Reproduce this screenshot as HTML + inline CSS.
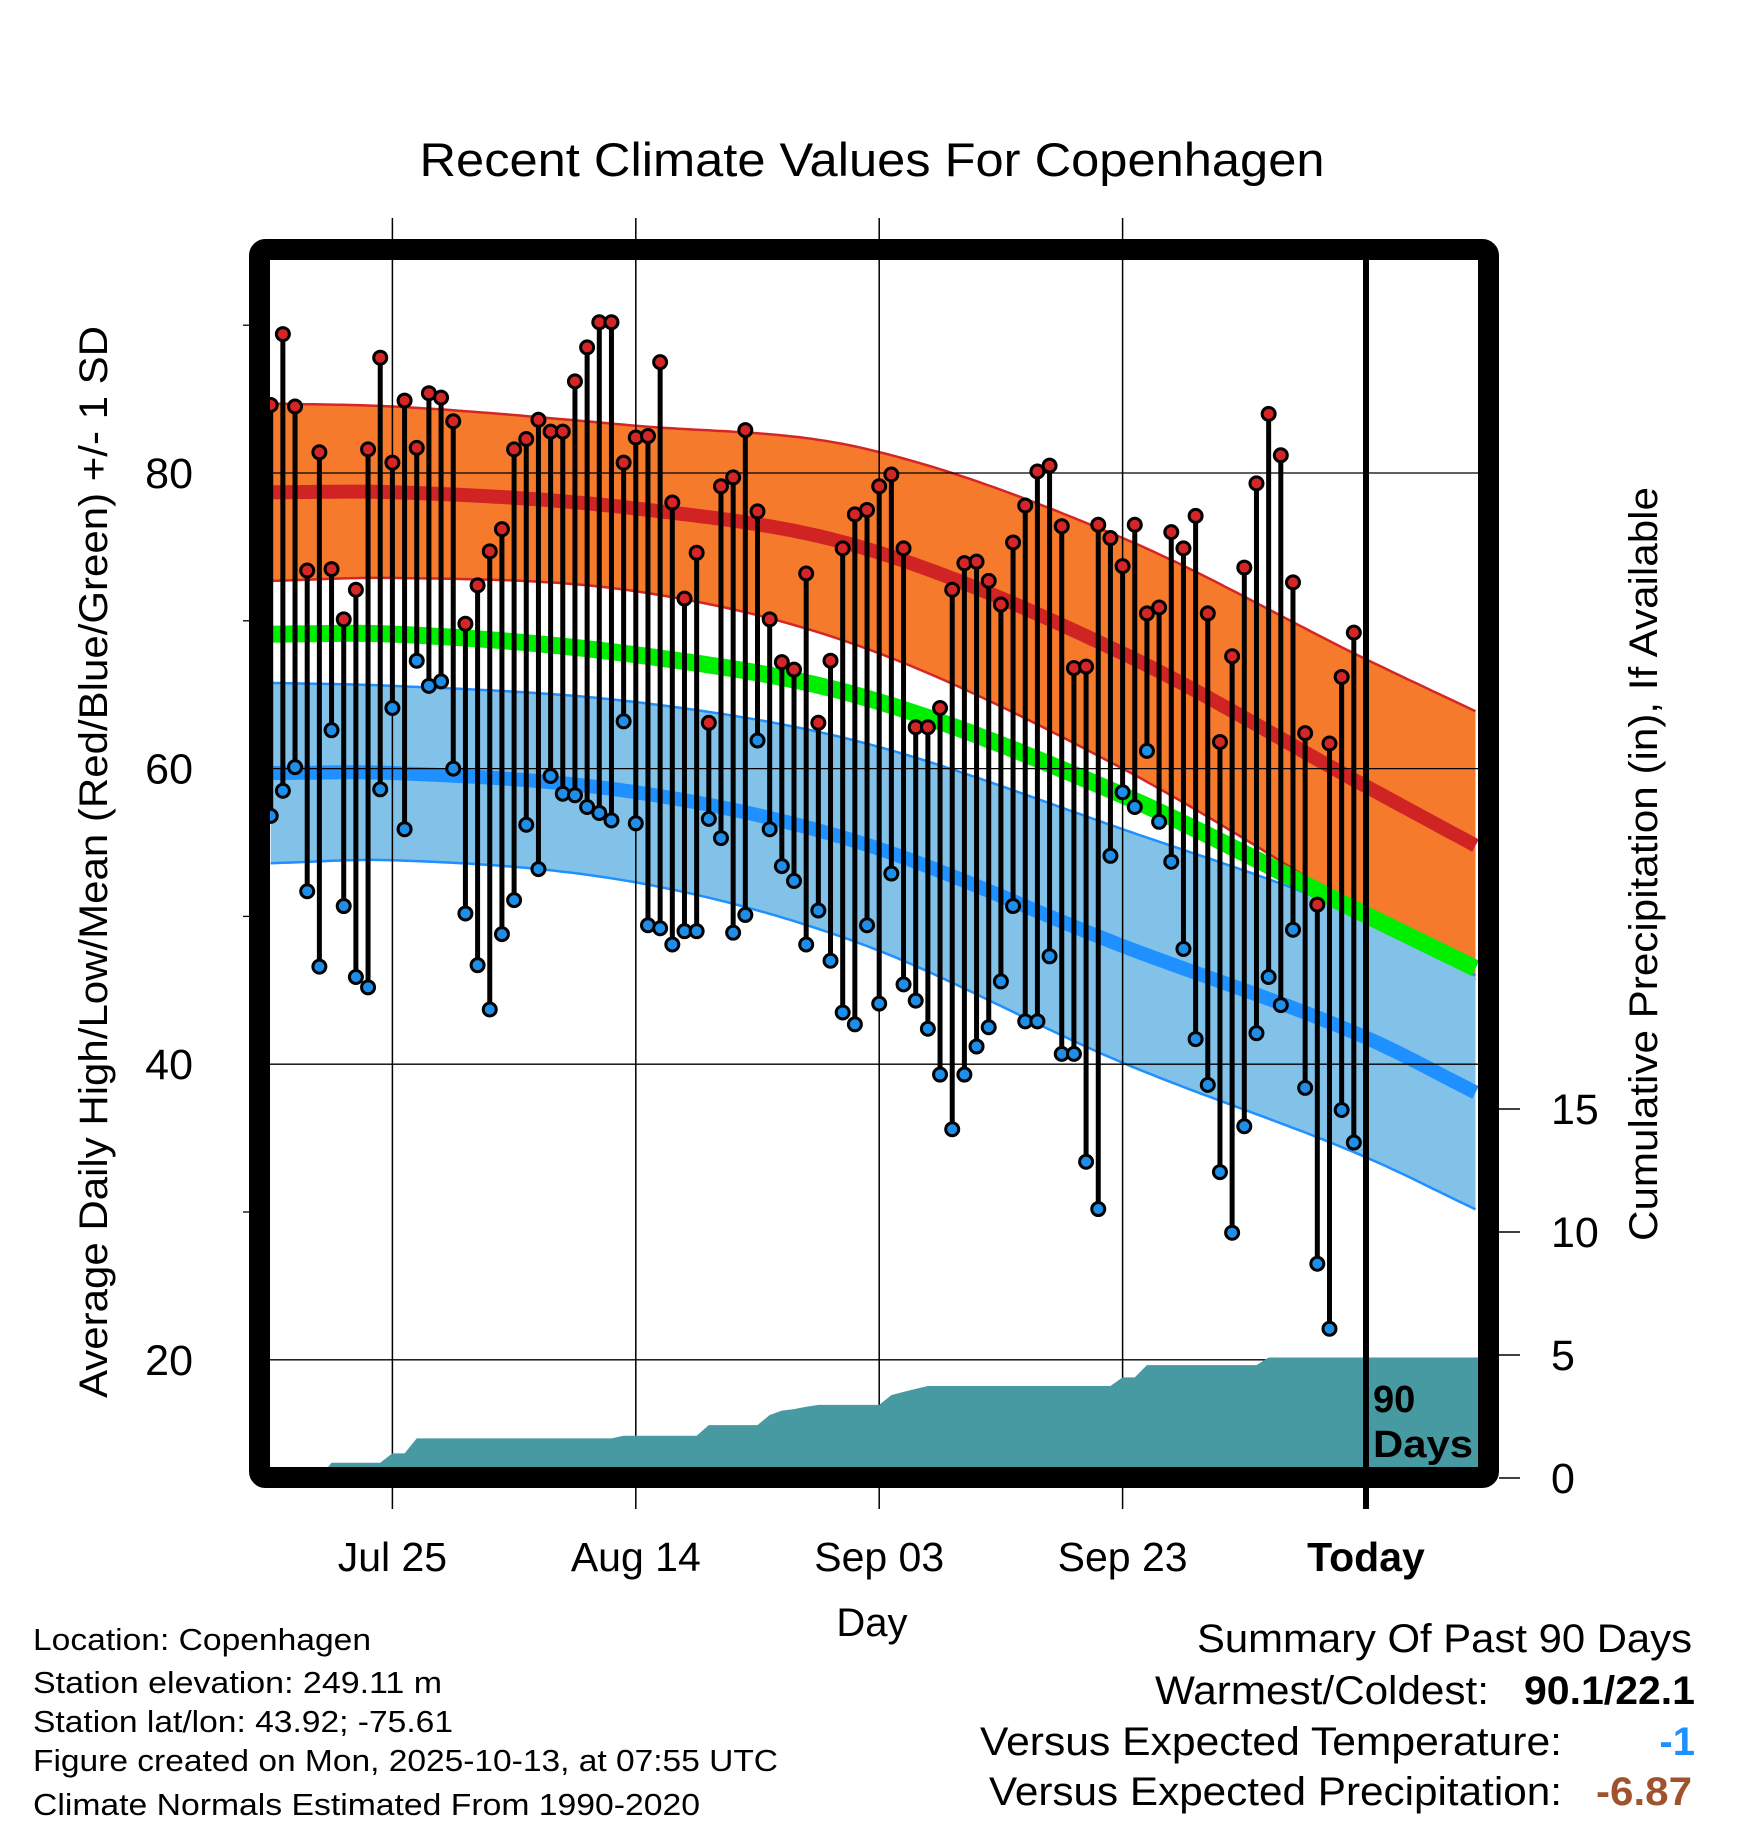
<!DOCTYPE html>
<html><head><meta charset="utf-8"><style>
html,body{margin:0;padding:0;background:#fff;}
svg{display:block;font-family:"Liberation Sans",Arial,sans-serif;}
</style></head><body>
<svg id="chart" width="1748" height="1828" viewBox="0 0 1748 1828" xmlns="http://www.w3.org/2000/svg">
<defs><clipPath id="plotclip"><rect x="270" y="260" width="1208" height="1208"/></clipPath></defs>
<rect width="1748" height="1828" fill="#fff"/>
<text x="872" y="176" font-size="47" text-anchor="middle" textLength="905" lengthAdjust="spacingAndGlyphs">Recent Climate Values For Copenhagen</text>
<g id="gridlayer"></g>
<g id="plotlayer" clip-path="url(#plotclip)"></g>
<g id="marklayer"></g>
<rect x="259.5" y="249.5" width="1229" height="1228" rx="6" fill="none" stroke="#000" stroke-width="21"/>
<g id="axislayer"></g>
<text transform="translate(107,862) rotate(-90)" font-size="40" text-anchor="middle" textLength="1072" lengthAdjust="spacingAndGlyphs">Average Daily High/Low/Mean (Red/Blue/Green) +/- 1 SD</text>
<text transform="translate(1657,864) rotate(-90)" font-size="40" text-anchor="middle" textLength="754" lengthAdjust="spacingAndGlyphs">Cumulative Precipitation (in), If Available</text>
<text x="872" y="1636" font-size="40" text-anchor="middle">Day</text>
<text x="1373" y="1412" font-size="38" font-weight="bold">90</text>
<text x="1373" y="1457" font-size="38" font-weight="bold" textLength="100" lengthAdjust="spacingAndGlyphs">Days</text>
<g font-size="31">
<text x="33" y="1650" textLength="338" lengthAdjust="spacingAndGlyphs">Location: Copenhagen</text>
<text x="33" y="1693" textLength="409" lengthAdjust="spacingAndGlyphs">Station elevation: 249.11 m</text>
<text x="33" y="1732" textLength="420" lengthAdjust="spacingAndGlyphs">Station lat/lon: 43.92; -75.61</text>
<text x="33" y="1771" textLength="745" lengthAdjust="spacingAndGlyphs">Figure created on Mon, 2025-10-13, at 07:55 UTC</text>
<text x="33" y="1815" textLength="667" lengthAdjust="spacingAndGlyphs">Climate Normals Estimated From 1990-2020</text>
</g>
<g font-size="40">
<text x="1692" y="1652" text-anchor="end" textLength="495" lengthAdjust="spacingAndGlyphs">Summary Of Past 90 Days</text>
<text x="1489" y="1704" text-anchor="end" textLength="334" lengthAdjust="spacingAndGlyphs">Warmest/Coldest:</text>
<text x="1695" y="1704" text-anchor="end" font-weight="bold" textLength="171" lengthAdjust="spacingAndGlyphs">90.1/22.1</text>
<text x="1562" y="1755" text-anchor="end" textLength="582" lengthAdjust="spacingAndGlyphs">Versus Expected Temperature:</text>
<text x="1695" y="1755" text-anchor="end" font-weight="bold" fill="#1e90ff">-1</text>
<text x="1562" y="1805" text-anchor="end" textLength="573" lengthAdjust="spacingAndGlyphs">Versus Expected Precipitation:</text>
<text x="1692" y="1805" text-anchor="end" font-weight="bold" fill="#a0522d" textLength="96" lengthAdjust="spacingAndGlyphs">-6.87</text>
</g>
</svg>
<script>
// ---- data ----
const highs = [84.6,89.4,84.5,73.4,81.4,73.5,70.1,72.1,81.6,87.8,80.7,84.9,81.7,85.4,85.1,83.5,69.8,72.4,74.7,76.2,81.6,82.3,83.6,82.8,82.8,86.2,88.5,90.2,90.2,80.7,82.4,82.5,87.5,78.0,71.5,74.6,63.1,79.1,79.7,82.9,77.4,70.1,67.2,66.7,73.2,63.1,67.3,74.9,77.2,77.5,79.1,79.9,74.9,62.8,62.8,64.1,72.1,73.9,74.0,72.7,71.1,75.3,77.8,80.1,80.5,76.4,66.8,66.9,76.5,75.6,73.7,76.5,70.5,70.9,76.0,74.9,77.1,70.5,61.8,67.6,73.6,79.3,84.0,81.2,72.6,62.4,50.8,61.7,66.2,69.2];
const lows = [56.8,58.5,60.1,51.7,46.6,62.6,50.7,45.9,45.2,58.6,64.1,55.9,67.3,65.6,65.9,60.0,50.2,46.7,43.7,48.8,51.1,56.2,53.2,59.5,58.3,58.2,57.4,57.0,56.5,63.2,56.3,49.4,49.2,48.1,49.0,49.0,56.6,55.3,48.9,50.1,61.9,55.9,53.4,52.4,48.1,50.4,47.0,43.5,42.7,49.4,44.1,52.9,45.4,44.3,42.4,39.3,35.6,39.3,41.2,42.5,45.6,50.7,42.9,42.9,47.3,40.7,40.7,33.4,30.2,54.1,58.4,57.4,61.2,56.4,53.7,47.8,41.7,38.6,32.7,28.6,35.8,42.1,45.9,44.0,49.1,38.4,26.5,22.1,36.9,34.7];
const precipCum = [0,0,0,0,0,0.62,0.62,0.62,0.62,0.62,1.0,1.0,1.61,1.61,1.61,1.61,1.61,1.61,1.61,1.61,1.61,1.61,1.61,1.61,1.61,1.61,1.61,1.61,1.61,1.72,1.72,1.72,1.72,1.72,1.72,1.72,2.15,2.15,2.15,2.15,2.15,2.56,2.74,2.80,2.90,2.97,2.97,2.97,2.97,2.97,2.97,3.37,3.50,3.62,3.74,3.74,3.74,3.74,3.74,3.74,3.74,3.74,3.74,3.74,3.74,3.74,3.74,3.74,3.74,3.74,4.09,4.09,4.59,4.59,4.59,4.59,4.59,4.59,4.59,4.59,4.59,4.59,4.9,4.9,4.9,4.9,4.9,4.9];
const normDays = [-90,-80,-60,-42,-20,0,9.2];
const normHigh = [78.7,78.7,77.6,75.1,67.8,58.8,54.7];
const sdHigh = [6.0,5.8,5.6,6.7,7.8,8.6,9.1];
const normMean = [69.1,69.1,67.7,65.0,58.2,50.1,46.4];
const normLow = [59.7,59.7,58.4,55.1,48.0,41.8,38.0];
const sdLow = [6.1,5.9,6.1,6.8,7.9,8.1,7.9];
const tempTicks = [20,40,60,80];
const tempMinor = [30,50,70,90];
const precipTicks = [0,5,10,15];
const dateTicks = [-80,-60,-40,-20,0];
const dateLabels = ["Jul 25","Aug 14","Sep 03","Sep 23","Today"];

// ---- axes ----
const xDay = d => 1366 + d*12.17;
const yT = t => 473 + (80-t)*14.78;
const yP = p => 1478 - p*24.6;
const NS = "http://www.w3.org/2000/svg";
function mk(tag, attrs, parent){const e=document.createElementNS(NS,tag);for(const k in attrs)e.setAttribute(k,attrs[k]);parent.appendChild(e);return e;}
function interp(arr, d){
  const n=normDays.length;let i=0;
  while(i<n-2 && d>normDays[i+1]) i++;
  const x0=normDays[i],x1=normDays[i+1],h=x1-x0,t=(d-x0)/h;
  const slope=j=>{if(j===0)return (arr[1]-arr[0])/(normDays[1]-normDays[0]);if(j===n-1)return (arr[n-1]-arr[n-2])/(normDays[n-1]-normDays[n-2]);return ((arr[j+1]-arr[j])/(normDays[j+1]-normDays[j])+(arr[j]-arr[j-1])/(normDays[j]-normDays[j-1]))/2;};
  const m0=slope(i)*h,m1=slope(i+1)*h,t2=t*t,t3=t2*t;
  return (2*t3-3*t2+1)*arr[i]+(t3-2*t2+t)*m0+(-2*t3+3*t2)*arr[i+1]+(t3-t2)*m1;
}
const samples=[];for(let d=-90;d<=9.3;d+=0.5)samples.push(d);
function linePath(fn){return samples.map((d,i)=>(i?'L':'M')+xDay(d).toFixed(1)+','+yT(fn(d)).toFixed(1)).join(' ');}
function bandPath(fu,fl){return linePath(fu)+' '+samples.slice().reverse().map(d=>'L'+xDay(d).toFixed(1)+','+yT(fl(d)).toFixed(1)).join(' ')+' Z';}

const plot=document.getElementById('plotlayer');
const hU=d=>interp(normHigh,d)+interp(sdHigh,d), hL=d=>interp(normHigh,d)-interp(sdHigh,d);
const lU=d=>interp(normLow,d)+interp(sdLow,d), lL=d=>interp(normLow,d)-interp(sdLow,d);
let e;
e=mk('path',{d:bandPath(hU,hL),fill:'#f57a2c',stroke:'none'},plot);


e=mk('path',{d:linePath(hU),fill:'none',stroke:'#d42626','stroke-width':2.5},plot);


e=mk('path',{d:linePath(hL),fill:'none',stroke:'#d42626','stroke-width':2.5},plot);


e=mk('path',{d:bandPath(lU,lL),fill:'#82c1e8',stroke:'none'},plot);


e=mk('path',{d:linePath(lU),fill:'none',stroke:'#1e90ff','stroke-width':2.5},plot);


e=mk('path',{d:linePath(lL),fill:'none',stroke:'#1e90ff','stroke-width':2.5},plot);


e=mk('path',{d:linePath(d=>interp(normMean,d)),fill:'none',stroke:'#00ee00','stroke-width':17},plot);


e=mk('path',{d:linePath(d=>interp(normHigh,d)),fill:'none',stroke:'#d02424','stroke-width':14},plot);


e=mk('path',{d:linePath(d=>interp(normLow,d)),fill:'none',stroke:'#1e90ff','stroke-width':14},plot);



// grid (over bands)
tempTicks.forEach(t=>{
  const g=mk('line',{x1:227,x2:1478,y1:yT(t),y2:yT(t),stroke:'#000','stroke-width':1.3},plot);
  
  
});
dateTicks.slice(0,4).forEach(d=>{
  const g=mk('line',{x1:xDay(d),x2:xDay(d),y1:260,y2:1468,stroke:'#000','stroke-width':1.5},plot);
  
  
});

// precipitation area
let pd='M'+xDay(-90)+','+yP(0);
precipCum.forEach((p,i)=>{pd+=' L'+xDay(i-90).toFixed(1)+','+yP(p).toFixed(1);});
pd+=' L1480,'+yP(precipCum[precipCum.length-1]).toFixed(1)+' L1480,1470 L270,1470 Z';
e=mk('path',{d:pd,fill:'#4799a2'},plot);



// temperature stems & dots
const marks=document.getElementById('marklayer');
highs.forEach((h,i)=>{
  const x=xDay(i-90);
  const s=mk('line',{x1:x,x2:x,y1:yT(h),y2:yT(lows[i]),stroke:'#000','stroke-width':5},marks);
  
  
});
highs.forEach((h,i)=>{
  const x=xDay(i-90);
  const c1=mk('circle',{cx:x,cy:yT(h),r:6.5,fill:'#d42626',stroke:'#000','stroke-width':3},marks);
  
  
  const c2=mk('circle',{cx:x,cy:yT(lows[i]),r:6.5,fill:'#1e8ee8',stroke:'#000','stroke-width':3},marks);
  
  
});

// axes
const ax=document.getElementById('axislayer');
const ext=mk('line',{x1:xDay(0),x2:xDay(0),y1:245,y2:1509,stroke:'#000','stroke-width':6},ax);


dateTicks.slice(0,4).forEach(d=>{
  const a=mk('line',{x1:xDay(d),x2:xDay(d),y1:218,y2:240,stroke:'#000','stroke-width':1.5},ax);
  
  
  const b=mk('line',{x1:xDay(d),x2:xDay(d),y1:1488,y2:1509,stroke:'#000','stroke-width':1.5},ax);
  
  
});
dateTicks.forEach((d,i)=>{
  const t=mk('text',{x:xDay(d),y:1571,'font-size':41,'text-anchor':'middle'},ax);
  if(i===4)t.setAttribute('font-weight','bold');
  t.textContent=dateLabels[i];
  
  
});
tempTicks.forEach(v=>{
  const t=mk('text',{x:193,y:yT(v)+15,'font-size':43,'text-anchor':'end'},ax);
  t.textContent=v;
  
  
});
tempMinor.forEach(v=>{
  const t=mk('line',{x1:243,x2:250,y1:yT(v),y2:yT(v),stroke:'#000','stroke-width':1.3},ax);
  
  
});
precipTicks.forEach(v=>{
  const l=mk('line',{x1:1499,x2:1520,y1:yP(v),y2:yP(v),stroke:'#000','stroke-width':1.5},ax);
  
  
  const t=mk('text',{x:1551,y:yP(v)+15,'font-size':43},ax);
  t.textContent=v;
  
  
});
</script>
</body></html>
